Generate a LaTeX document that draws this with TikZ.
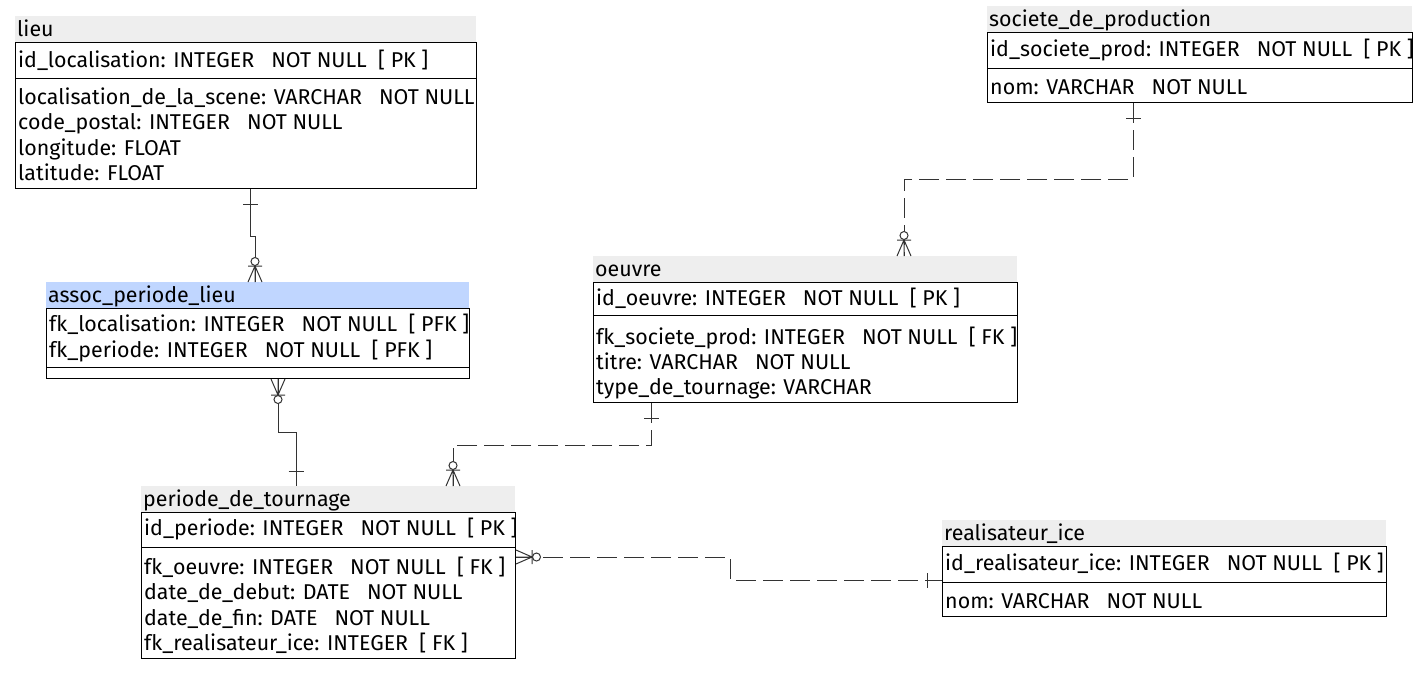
\documentclass[tikz,border=0pt]{standalone}
\usepackage{fontspec}
\setmainfont{Fira Sans}
\usetikzlibrary{positioning}

\definecolor{titlegray}{HTML}{EEEEEE}
\definecolor{assocblue}{HTML}{C0D6FF}
\definecolor{linkgray}{HTML}{333333}
\newcommand\tabfont{\fontsize{21.4}{24}\selectfont}

\tikzset{
  zeromany/.pic={
    \draw[linkgray, line width=1pt] (0,-7) -- (16,0) -- (0,7) (0,0) -- (16,0) (16,-7) -- (16,7);
    \draw[linkgray, line width=1pt, fill=white] (20.5,0) circle (4pt);
  },
  onebar/.pic={
    \draw[linkgray, line width=1pt] (15,-7.5) -- (15,7.5);
  }
}

\begin{document}
\begin{tikzpicture}[
  x=1pt, y=-1pt,
  tabtitle/.style={fill=titlegray, anchor=north west, inner xsep=2pt, inner ysep=0pt, minimum height=26pt, text height=18pt, text depth=3pt, align=left, font=\tabfont},
  tabbox/.style={draw=black, line width=1pt, anchor=north west, inner sep=0pt},
  attr/.style={anchor=west, inner sep=0pt, text height=18pt, text depth=3pt, font=\tabfont},
  link/.style={draw=linkgray, line width=1pt},
  optlink/.style={link, dash pattern=on 20pt off 7pt}
]
\fill[white] (0,0) rectangle (1424,675);
\useasboundingbox (0,0) rectangle (1424,675);

% lieu
\node (lieuT) [tabtitle, text width=457pt] at (15,16) {lieu};
\node (lieuB) [tabbox, minimum width=461pt, minimum height=146pt] at (15,42) {};
\draw ([yshift=-36pt]lieuB.north west) -- ([yshift=-36pt]lieuB.north east);
\node (lieuPK) [attr] at (18,60) {id\_localisation: INTEGER\ \ \ NOT NULL\ \ [ PK ]};
\node (lieuA1) [attr] at (18,97) {localisation\_de\_la\_scene: VARCHAR\ \ \ NOT NULL};
\node (lieuA2) [attr] at (18,122) {code\_postal: INTEGER\ \ \ NOT NULL};
\node (lieuA3) [attr] at (18,148) {longitude: FLOAT};
\node (lieuA4) [attr] at (18,173) {latitude: FLOAT};

% societe_de_production
\node (socT) [tabtitle, text width=421pt] at (987,6) {societe\_de\_production};
\node (socB) [tabbox, minimum width=425pt, minimum height=70pt] at (987,32) {};
\draw ([yshift=-36pt]socB.north west) -- ([yshift=-36pt]socB.north east);
\node (socPK) [attr] at (990,49) {id\_societe\_prod: INTEGER\ \ \ NOT NULL\ \ [ PK ]};
\node (socA1) [attr] at (990,87) {nom: VARCHAR\ \ \ NOT NULL};

% assoc_periode_lieu
\node (assocT) [tabtitle, fill=assocblue, text width=419pt] at (46,282) {assoc\_periode\_lieu};
\node (assocB) [tabbox, minimum width=423pt, minimum height=70pt] at (46,308) {};
\draw ([yshift=-59pt]assocB.north west) -- ([yshift=-59pt]assocB.north east);
\node (assocA1) [attr] at (49,324) {fk\_localisation: INTEGER\ \ \ NOT NULL\ \ [ PFK ]};
\node (assocA2) [attr] at (49,350) {fk\_periode: INTEGER\ \ \ NOT NULL\ \ [ PFK ]};

% oeuvre
\node (oeuvreT) [tabtitle, text width=420pt] at (593,256) {oeuvre};
\node (oeuvreB) [tabbox, minimum width=424pt, minimum height=120pt] at (593,282) {};
\draw ([yshift=-33pt]oeuvreB.north west) -- ([yshift=-33pt]oeuvreB.north east);
\node (oeuvrePK) [attr] at (596,298) {id\_oeuvre: INTEGER\ \ \ NOT NULL\ \ [ PK ]};
\node (oeuvreA1) [attr] at (596,337) {fk\_societe\_prod: INTEGER\ \ \ NOT NULL\ \ [ FK ]};
\node (oeuvreA2) [attr] at (596,362) {titre: VARCHAR\ \ \ NOT NULL};
\node (oeuvreA3) [attr] at (596,387) {type\_de\_tournage: VARCHAR};

% periode_de_tournage
\node (perT) [tabtitle, text width=370pt] at (141,486) {periode\_de\_tournage};
\node (perB) [tabbox, minimum width=374pt, minimum height=146pt] at (141,512) {};
\draw ([yshift=-35pt]perB.north west) -- ([yshift=-35pt]perB.north east);
\node (perPK) [attr] at (144,528) {id\_periode: INTEGER\ \ \ NOT NULL\ \ [ PK ]};
\node (perA1) [attr] at (144,567) {fk\_oeuvre: INTEGER\ \ \ NOT NULL\ \ [ FK ]};
\node (perA2) [attr] at (144,592) {date\_de\_debut: DATE\ \ \ NOT NULL};
\node (perA3) [attr] at (144,618) {date\_de\_fin: DATE\ \ \ NOT NULL};
\node (perA4) [attr] at (144,643) {fk\_realisateur\_ice: INTEGER\ \ [ FK ]};

% realisateur_ice
\node (realT) [tabtitle, text width=440pt] at (942,520) {realisateur\_ice};
\node (realB) [tabbox, minimum width=444pt, minimum height=70pt] at (942,546) {};
\draw ([yshift=-36pt]realB.north west) -- ([yshift=-36pt]realB.north east);
\node (realPK) [attr] at (945,563) {id\_realisateur\_ice: INTEGER\ \ \ NOT NULL\ \ [ PK ]};
\node (realA1) [attr] at (945,601) {nom: VARCHAR\ \ \ NOT NULL};

% relations
\draw[link] ([xshift=235pt]lieuB.south west) -- ++(0,47) -| ([xshift=209pt]assocT.north west);
\pic[rotate=-90] at ([xshift=235pt]lieuB.south west) {onebar};
\pic[rotate=90] at ([xshift=209pt]assocT.north west) {zeromany};

\draw[link] ([xshift=232pt]assocB.south west) -- ++(0,53) -| ([xshift=155pt]perT.north west);
\pic[rotate=-90] at ([xshift=232pt]assocB.south west) {zeromany};
\pic[rotate=90] at ([xshift=155pt]perT.north west) {onebar};

\draw[optlink] ([xshift=58pt]oeuvreB.south west) -- ++(0,42) -| ([xshift=312pt]perT.north west);
\pic[rotate=-90] at ([xshift=58pt]oeuvreB.south west) {onebar};
\pic[rotate=90] at ([xshift=312pt]perT.north west) {zeromany};

\draw[optlink] ([xshift=146pt]socB.south west) -- ++(0,76) -| ([xshift=311pt]oeuvreT.north west);
\pic[rotate=-90] at ([xshift=146pt]socB.south west) {onebar};
\pic[rotate=90] at ([xshift=311pt]oeuvreT.north west) {zeromany};

\draw[optlink] ([yshift=-45pt]perB.north east) -- ++(214,0) |- ([yshift=-34pt]realB.north west);
\pic at ([yshift=-45pt]perB.north east) {zeromany};
\pic[rotate=180] at ([yshift=-34pt]realB.north west) {onebar};

\end{tikzpicture}
\end{document}
